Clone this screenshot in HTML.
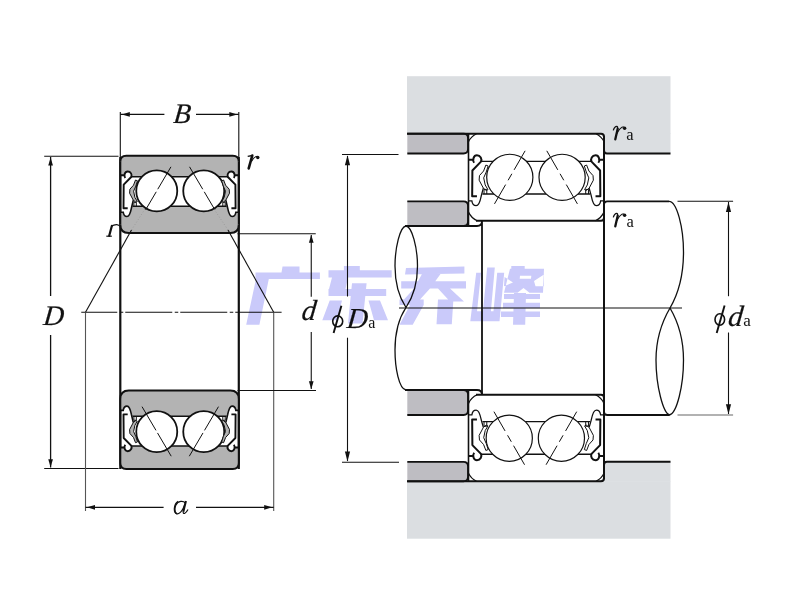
<!DOCTYPE html>
<html><head><meta charset="utf-8"><style>html,body{margin:0;padding:0;background:#fff;width:800px;height:600px;overflow:hidden}svg{display:block}</style></head>
<body>
<svg width="800" height="600" viewBox="0 0 800 600">
<rect width="800" height="600" fill="#fff"/>
<line x1="120.30" y1="112.00" x2="120.30" y2="157.00" stroke="#111" stroke-width="1.1" />
<line x1="120.30" y1="157.00" x2="120.30" y2="469.00" stroke="#111" stroke-width="2.2" />
<line x1="238.80" y1="112.00" x2="238.80" y2="157.00" stroke="#111" stroke-width="1.1" />
<line x1="238.80" y1="157.00" x2="238.80" y2="469.00" stroke="#111" stroke-width="2.2" />
<path d="M120.30,161.70 Q120.30,155.70 126.30,155.70 L232.80,155.70 Q238.80,155.70 238.80,161.70 L238.80,175.25 L234.60,175.25 C234.20,172.50 233.20,171.50 231.40,171.50 C228.30,171.50 226.80,174.70 227.90,176.70 L131.20,176.70 C132.30,174.70 130.80,171.50 127.70,171.50 C125.90,171.50 124.90,172.50 124.50,175.25 L120.30,175.25 Z" fill="#b3b3b3"/>
<path d="M120.30,224.60 Q120.30,233.10 128.80,233.10 L230.30,233.10 Q238.80,233.10 238.80,224.60 L238.80,212.25 L235.85,212.25 C235.60,214.20 234.30,216.50 232.10,216.50 C229.30,216.50 228.00,209.70 227.60,207.70 L226.60,206.30 L132.50,206.30 L131.50,207.70 C131.10,209.70 129.80,216.50 127.00,216.50 C124.80,216.50 123.50,214.20 123.25,212.25 L120.30,212.25 Z" fill="#b3b3b3"/>
<path d="M131.20,176.70 L227.90,176.70 M132.50,206.30 L226.60,206.30" stroke="#111" stroke-width="1.6" fill="none"/>
<circle cx="156.75" cy="190.95" r="20.50" fill="#fff" stroke="#111" stroke-width="1.8"/>
<circle cx="203.75" cy="190.95" r="20.50" fill="#fff" stroke="#111" stroke-width="1.8"/>
<line x1="170.96" y1="166.82" x2="145.58" y2="209.91" stroke="#111" stroke-width="1.0" stroke-dasharray="26 3 100"/>
<line x1="189.54" y1="166.82" x2="214.92" y2="209.91" stroke="#111" stroke-width="1.0" stroke-dasharray="26 3 100"/>
<path d="M120.30,175.25 L124.50,175.25 M125.25,178.00 C123.60,175.70 124.60,171.50 127.70,171.50 C130.80,171.50 132.30,174.70 131.20,177.00 L123.70,184.70 L123.50,208.25 L127.70,208.25" fill="none" stroke="#111" stroke-width="1.9" stroke-linejoin="round"/>
<path d="M135.50,180.00 L133.50,185.20 L129.90,189.20 L129.60,193.20 L133.30,200.20 L135.80,202.20 L137.30,201.50 L134.90,197.40 L133.60,191.20 L135.80,186.10 L137.50,180.80 Z" fill="#b3b3b3" stroke="#111" stroke-width="1.0" stroke-linejoin="round"/>
<path d="M120.30,212.25 L123.25,212.25 C123.50,214.20 124.80,216.50 127.00,216.50 C129.80,216.50 131.10,209.70 131.50,207.70 L133.30,200.20" fill="none" stroke="#111" stroke-width="1.6"/>
<path d="M133.90,206.30 L133.90,202.30 L136.30,202.30 L136.30,206.30" fill="none" stroke="#111" stroke-width="1.0"/>
<path d="M238.80,175.25 L234.60,175.25 M233.85,178.00 C235.50,175.70 234.50,171.50 231.40,171.50 C228.30,171.50 226.80,174.70 227.90,177.00 L235.40,184.70 L235.60,208.25 L231.40,208.25" fill="none" stroke="#111" stroke-width="1.9" stroke-linejoin="round"/>
<path d="M223.60,180.00 L225.60,185.20 L229.20,189.20 L229.50,193.20 L225.80,200.20 L223.30,202.20 L221.80,201.50 L224.20,197.40 L225.50,191.20 L223.30,186.10 L221.60,180.80 Z" fill="#b3b3b3" stroke="#111" stroke-width="1.0" stroke-linejoin="round"/>
<path d="M238.80,212.25 L235.85,212.25 C235.60,214.20 234.30,216.50 232.10,216.50 C229.30,216.50 228.00,209.70 227.60,207.70 L225.80,200.20" fill="none" stroke="#111" stroke-width="1.6"/>
<path d="M225.20,206.30 L225.20,202.30 L222.80,202.30 L222.80,206.30" fill="none" stroke="#111" stroke-width="1.0"/>
<path d="M120.30,161.70 Q120.30,155.70 126.30,155.70 L232.80,155.70 Q238.80,155.70 238.80,161.70" fill="none" stroke="#111" stroke-width="2.0"/>
<path d="M238.80,224.60 Q238.80,233.10 230.30,233.10 L128.80,233.10 Q120.30,233.10 120.30,224.60" fill="none" stroke="#111" stroke-width="2.0"/>
<path d="M120.30,161.70 L120.30,224.60 M238.80,161.70 L238.80,224.60" stroke="#111" stroke-width="2.0" fill="none"/>
<path d="M120.30,463.00 Q120.30,469.00 126.30,469.00 L232.80,469.00 Q238.80,469.00 238.80,463.00 L238.80,447.45 L234.60,447.45 C234.20,450.20 233.20,451.20 231.40,451.20 C228.30,451.20 226.80,448.00 227.90,446.00 L131.20,446.00 C132.30,448.00 130.80,451.20 127.70,451.20 C125.90,451.20 124.90,450.20 124.50,447.45 L120.30,447.45 Z" fill="#b3b3b3"/>
<path d="M120.30,399.00 Q120.30,390.50 128.80,390.50 L230.30,390.50 Q238.80,390.50 238.80,399.00 L238.80,410.35 L235.85,410.35 C235.60,408.40 234.30,406.10 232.10,406.10 C229.30,406.10 228.00,412.90 227.60,414.90 L226.60,416.30 L132.50,416.30 L131.50,414.90 C131.10,412.90 129.80,406.10 127.00,406.10 C124.80,406.10 123.50,408.40 123.25,410.35 L120.30,410.35 Z" fill="#b3b3b3"/>
<path d="M131.20,446.00 L227.90,446.00 M132.50,416.30 L226.60,416.30" stroke="#111" stroke-width="1.6" fill="none"/>
<circle cx="156.75" cy="431.65" r="20.50" fill="#fff" stroke="#111" stroke-width="1.8"/>
<circle cx="203.75" cy="431.65" r="20.50" fill="#fff" stroke="#111" stroke-width="1.8"/>
<line x1="171.21" y1="456.21" x2="142.03" y2="406.66" stroke="#111" stroke-width="1.0" stroke-dasharray="27 3 100"/>
<line x1="189.29" y1="456.21" x2="218.47" y2="406.66" stroke="#111" stroke-width="1.0" stroke-dasharray="27 3 100"/>
<path d="M120.30,447.45 L124.50,447.45 M125.25,444.70 C123.60,447.00 124.60,451.20 127.70,451.20 C130.80,451.20 132.30,448.00 131.20,445.70 L123.70,438.00 L123.50,414.35 L127.70,414.35" fill="none" stroke="#111" stroke-width="1.9" stroke-linejoin="round"/>
<path d="M135.50,442.70 L133.50,437.50 L129.90,433.50 L129.60,429.50 L133.30,422.50 L135.80,420.50 L137.30,421.20 L134.90,425.30 L133.60,431.50 L135.80,436.60 L137.50,441.90 Z" fill="#b3b3b3" stroke="#111" stroke-width="1.0" stroke-linejoin="round"/>
<path d="M120.30,410.35 L123.25,410.35 C123.50,408.40 124.80,406.10 127.00,406.10 C129.80,406.10 131.10,412.90 131.50,414.90 L133.30,422.50" fill="none" stroke="#111" stroke-width="1.6"/>
<path d="M133.90,416.30 L133.90,420.30 L136.30,420.30 L136.30,416.30" fill="none" stroke="#111" stroke-width="1.0"/>
<path d="M238.80,447.45 L234.60,447.45 M233.85,444.70 C235.50,447.00 234.50,451.20 231.40,451.20 C228.30,451.20 226.80,448.00 227.90,445.70 L235.40,438.00 L235.60,414.35 L231.40,414.35" fill="none" stroke="#111" stroke-width="1.9" stroke-linejoin="round"/>
<path d="M223.60,442.70 L225.60,437.50 L229.20,433.50 L229.50,429.50 L225.80,422.50 L223.30,420.50 L221.80,421.20 L224.20,425.30 L225.50,431.50 L223.30,436.60 L221.60,441.90 Z" fill="#b3b3b3" stroke="#111" stroke-width="1.0" stroke-linejoin="round"/>
<path d="M238.80,410.35 L235.85,410.35 C235.60,408.40 234.30,406.10 232.10,406.10 C229.30,406.10 228.00,412.90 227.60,414.90 L225.80,422.50" fill="none" stroke="#111" stroke-width="1.6"/>
<path d="M225.20,416.30 L225.20,420.30 L222.80,420.30 L222.80,416.30" fill="none" stroke="#111" stroke-width="1.0"/>
<path d="M120.30,463.00 Q120.30,469.00 126.30,469.00 L232.80,469.00 Q238.80,469.00 238.80,463.00" fill="none" stroke="#111" stroke-width="2.0"/>
<path d="M238.80,399.00 Q238.80,390.50 230.30,390.50 L128.80,390.50 Q120.30,390.50 120.30,399.00" fill="none" stroke="#111" stroke-width="2.0"/>
<path d="M120.30,463.00 L120.30,399.00 M238.80,463.00 L238.80,399.00" stroke="#111" stroke-width="2.0" fill="none"/>
<line x1="120.30" y1="114.40" x2="164.40" y2="114.40" stroke="#111" stroke-width="1.2" />
<line x1="196.00" y1="114.40" x2="238.80" y2="114.40" stroke="#111" stroke-width="1.2" />
<path d="M121.80,114.40 L129.80,112.05 L129.80,116.75 Z" fill="#111"/>
<path d="M237.30,114.40 L229.30,116.75 L229.30,112.05 Z" fill="#111"/>
<line x1="44.20" y1="156.20" x2="118.50" y2="156.20" stroke="#111" stroke-width="1.1" />
<line x1="44.20" y1="468.50" x2="118.50" y2="468.50" stroke="#111" stroke-width="1.1" />
<line x1="50.60" y1="157.00" x2="50.60" y2="296.00" stroke="#111" stroke-width="1.3" />
<line x1="50.60" y1="335.00" x2="50.60" y2="467.50" stroke="#111" stroke-width="1.3" />
<path d="M50.60,157.50 L52.95,165.50 L48.25,165.50 Z" fill="#111"/>
<path d="M50.60,467.30 L48.25,459.30 L52.95,459.30 Z" fill="#111"/>
<line x1="81.25" y1="312.25" x2="281.60" y2="312.25" stroke="#111" stroke-width="1.1" stroke-dasharray="47 2.5 3.5 2" stroke-dashoffset="11"/>
<line x1="85.50" y1="312.25" x2="85.50" y2="511.00" stroke="#555" stroke-width="1.1" />
<line x1="273.70" y1="312.25" x2="273.70" y2="511.00" stroke="#555" stroke-width="1.1" />
<line x1="85.50" y1="507.30" x2="163.60" y2="507.30" stroke="#111" stroke-width="1.2" />
<line x1="196.00" y1="507.30" x2="273.70" y2="507.30" stroke="#111" stroke-width="1.2" />
<path d="M87.00,507.30 L95.00,504.95 L95.00,509.65 Z" fill="#111"/>
<path d="M272.20,507.30 L264.20,509.65 L264.20,504.95 Z" fill="#111"/>
<line x1="85.50" y1="312.25" x2="131.50" y2="230.00" stroke="#111" stroke-width="1.1" />
<line x1="273.70" y1="312.25" x2="228.00" y2="230.00" stroke="#111" stroke-width="1.1" />
<line x1="131.50" y1="230.00" x2="145.00" y2="209.00" stroke="#999" stroke-width="0.9" stroke-dasharray="1 2"/>
<line x1="228.00" y1="230.00" x2="214.00" y2="209.00" stroke="#999" stroke-width="0.9" stroke-dasharray="1 2"/>
<line x1="237.50" y1="233.75" x2="315.75" y2="233.75" stroke="#111" stroke-width="1.1" />
<line x1="237.50" y1="390.50" x2="316.00" y2="390.50" stroke="#111" stroke-width="1.1" />
<line x1="311.25" y1="235.00" x2="311.25" y2="296.70" stroke="#111" stroke-width="1.1" />
<line x1="311.25" y1="332.00" x2="311.25" y2="389.00" stroke="#111" stroke-width="1.1" />
<path d="M311.25,234.75 L313.60,242.75 L308.90,242.75 Z" fill="#111"/>
<path d="M311.25,389.25 L308.90,381.25 L313.60,381.25 Z" fill="#111"/>
<rect x="407" y="76.2" width="263.5" height="57.5" fill="#dbdee1"/>
<rect x="600" y="133" width="70.5" height="20.5" fill="#dbdee1"/>
<rect x="407" y="481.3" width="263.5" height="57.4" fill="#dbdee1"/>
<rect x="600" y="461.8" width="70.5" height="20" fill="#dbdee1"/>
<path d="M407.3,133.7 L463.5,133.7 Q468.0,133.7 468.0,138.2 L468.0,149.0 Q468.0,153.5 463.5,153.5 L407.3,153.5 Z" fill="#bebdc2"/>
<path d="M407.3,201.3 L463.5,201.3 Q468.0,201.3 468.0,205.8 L468.0,221.5 Q468.0,226.0 463.5,226.0 L407.3,226.0 Z" fill="#bebdc2"/>
<path d="M407.3,390.0 L463.5,390.0 Q468.0,390.0 468.0,394.5 L468.0,410.5 Q468.0,415.0 463.5,415.0 L407.3,415.0 Z" fill="#bebdc2"/>
<path d="M407.3,461.8 L463.5,461.8 Q468.0,461.8 468.0,466.3 L468.0,476.8 Q468.0,481.3 463.5,481.3 L407.3,481.3 Z" fill="#bebdc2"/>
<path d="M468.50,141.70 Q468.50,133.70 476.50,133.70 L596.00,133.70 Q604.00,133.70 604.00,141.70 L604.00,159.64 L599.20,159.64 C598.74,156.50 597.60,155.36 595.54,155.36 C592.00,155.36 590.29,159.01 591.54,161.30 L480.96,161.30 C482.21,159.01 480.50,155.36 476.96,155.36 C474.90,155.36 473.76,156.50 473.30,159.64 L468.50,159.64 Z" fill="#fff"/>
<path d="M468.50,212.13 Q468.50,220.70 477.07,220.70 L595.43,220.70 Q604.00,220.70 604.00,212.13 L604.00,200.80 L600.63,200.80 C600.34,203.03 598.86,205.66 596.34,205.66 C593.14,205.66 591.66,197.89 591.20,195.60 L590.06,194.00 L482.44,194.00 L481.30,195.60 C480.84,197.89 479.36,205.66 476.16,205.66 C473.64,205.66 472.16,203.03 471.87,200.80 L468.50,200.80 Z" fill="#fff"/>
<path d="M480.96,161.30 L591.54,161.30 M482.44,194.00 L590.06,194.00" stroke="#111" stroke-width="1.3" fill="none"/>
<circle cx="509.80" cy="177.35" r="23.10" fill="#fff" stroke="#111" stroke-width="1.2"/>
<circle cx="562.10" cy="177.35" r="23.10" fill="#fff" stroke="#111" stroke-width="1.2"/>
<line x1="525.11" y1="150.82" x2="494.49" y2="203.88" stroke="#111" stroke-width="1.0" stroke-dasharray="22 4.5 7.5 5 40"/>
<line x1="546.79" y1="150.82" x2="577.41" y2="203.88" stroke="#111" stroke-width="1.0" stroke-dasharray="22 4.5 7.5 5 40"/>
<path d="M468.50,159.64 L473.30,159.64 M474.16,162.79 C472.27,160.16 473.41,155.36 476.96,155.36 C480.50,155.36 482.21,159.01 480.96,161.64 L472.39,170.44 L472.16,196.23 L476.96,196.23" fill="none" stroke="#111" stroke-width="2.0" stroke-linejoin="round"/>
<path d="M485.87,165.07 L483.59,171.01 L479.47,175.59 L479.13,180.16 L483.36,188.16 L486.21,190.44 L487.93,189.64 L485.19,184.96 L483.70,177.87 L486.21,172.04 L488.16,165.99 Z" fill="#fff" stroke="#111" stroke-width="1.0" stroke-linejoin="round"/>
<path d="M468.50,200.80 L471.87,200.80 C472.16,203.03 473.64,205.66 476.16,205.66 C479.36,205.66 480.84,197.89 481.30,195.60 L483.36,188.16" fill="none" stroke="#111" stroke-width="1.3"/>
<path d="M484.04,194.00 L484.04,189.43 L486.79,189.43 L486.79,194.00" fill="none" stroke="#111" stroke-width="1.0"/>
<path d="M604.00,159.64 L599.20,159.64 M598.34,162.79 C600.23,160.16 599.09,155.36 595.54,155.36 C592.00,155.36 590.29,159.01 591.54,161.64 L600.11,170.44 L600.34,196.23 L595.54,196.23" fill="none" stroke="#111" stroke-width="2.0" stroke-linejoin="round"/>
<path d="M586.63,165.07 L588.91,171.01 L593.03,175.59 L593.37,180.16 L589.14,188.16 L586.29,190.44 L584.57,189.64 L587.31,184.96 L588.80,177.87 L586.29,172.04 L584.34,165.99 Z" fill="#fff" stroke="#111" stroke-width="1.0" stroke-linejoin="round"/>
<path d="M604.00,200.80 L600.63,200.80 C600.34,203.03 598.86,205.66 596.34,205.66 C593.14,205.66 591.66,197.89 591.20,195.60 L589.14,188.16" fill="none" stroke="#111" stroke-width="1.3"/>
<path d="M588.46,194.00 L588.46,189.43 L585.71,189.43 L585.71,194.00" fill="none" stroke="#111" stroke-width="1.0"/>
<path d="M468.50,141.70 Q471.06,136.26 476.50,133.70 M604.00,141.70 Q601.44,136.26 596.00,133.70 M468.50,212.13 Q471.24,217.96 477.07,220.70 M604.00,212.13 Q601.26,217.96 595.43,220.70" fill="none" stroke="#111" stroke-width="1.2"/>
<path d="M468.50,473.30 Q468.50,481.30 476.50,481.30 L596.00,481.30 Q604.00,481.30 604.00,473.30 L604.00,455.91 L599.20,455.91 C598.74,459.05 597.60,460.19 595.54,460.19 C592.00,460.19 590.29,456.54 591.54,454.25 L480.96,454.25 C482.21,456.54 480.50,460.19 476.96,460.19 C474.90,460.19 473.76,459.05 473.30,455.91 L468.50,455.91 Z" fill="#fff"/>
<path d="M468.50,403.37 Q468.50,394.80 477.07,394.80 L595.43,394.80 Q604.00,394.80 604.00,403.37 L604.00,414.90 L600.63,414.90 C600.34,412.67 598.86,410.04 596.34,410.04 C593.14,410.04 591.66,417.81 591.20,420.10 L590.06,421.70 L482.44,421.70 L481.30,420.10 C480.84,417.81 479.36,410.04 476.16,410.04 C473.64,410.04 472.16,412.67 471.87,414.90 L468.50,414.90 Z" fill="#fff"/>
<path d="M480.96,454.25 L591.54,454.25 M482.44,421.70 L590.06,421.70" stroke="#111" stroke-width="1.3" fill="none"/>
<circle cx="509.25" cy="438.20" r="23.10" fill="#fff" stroke="#111" stroke-width="1.2"/>
<circle cx="561.40" cy="438.20" r="23.10" fill="#fff" stroke="#111" stroke-width="1.2"/>
<line x1="524.56" y1="464.73" x2="493.94" y2="411.67" stroke="#111" stroke-width="1.0" stroke-dasharray="22 4.5 7.5 5 40"/>
<line x1="546.09" y1="464.73" x2="576.71" y2="411.67" stroke="#111" stroke-width="1.0" stroke-dasharray="22 4.5 7.5 5 40"/>
<path d="M468.50,455.91 L473.30,455.91 M474.16,452.76 C472.27,455.39 473.41,460.19 476.96,460.19 C480.50,460.19 482.21,456.54 480.96,453.91 L472.39,445.11 L472.16,419.47 L476.96,419.47" fill="none" stroke="#111" stroke-width="2.0" stroke-linejoin="round"/>
<path d="M485.87,450.48 L483.59,444.54 L479.47,439.96 L479.13,435.39 L483.36,427.39 L486.21,425.11 L487.93,425.91 L485.19,430.59 L483.70,437.68 L486.21,443.51 L488.16,449.56 Z" fill="#fff" stroke="#111" stroke-width="1.0" stroke-linejoin="round"/>
<path d="M468.50,414.90 L471.87,414.90 C472.16,412.67 473.64,410.04 476.16,410.04 C479.36,410.04 480.84,417.81 481.30,420.10 L483.36,427.39" fill="none" stroke="#111" stroke-width="1.3"/>
<path d="M484.04,421.70 L484.04,426.27 L486.79,426.27 L486.79,421.70" fill="none" stroke="#111" stroke-width="1.0"/>
<path d="M604.00,455.91 L599.20,455.91 M598.34,452.76 C600.23,455.39 599.09,460.19 595.54,460.19 C592.00,460.19 590.29,456.54 591.54,453.91 L600.11,445.11 L600.34,419.47 L595.54,419.47" fill="none" stroke="#111" stroke-width="2.0" stroke-linejoin="round"/>
<path d="M586.63,450.48 L588.91,444.54 L593.03,439.96 L593.37,435.39 L589.14,427.39 L586.29,425.11 L584.57,425.91 L587.31,430.59 L588.80,437.68 L586.29,443.51 L584.34,449.56 Z" fill="#fff" stroke="#111" stroke-width="1.0" stroke-linejoin="round"/>
<path d="M604.00,414.90 L600.63,414.90 C600.34,412.67 598.86,410.04 596.34,410.04 C593.14,410.04 591.66,417.81 591.20,420.10 L589.14,427.39" fill="none" stroke="#111" stroke-width="1.3"/>
<path d="M588.46,421.70 L588.46,426.27 L585.71,426.27 L585.71,421.70" fill="none" stroke="#111" stroke-width="1.0"/>
<path d="M468.50,473.30 Q471.06,478.74 476.50,481.30 M604.00,473.30 Q601.44,478.74 596.00,481.30 M468.50,403.37 Q471.24,397.54 477.07,394.80 M604.00,403.37 Q601.26,397.54 595.43,394.80" fill="none" stroke="#111" stroke-width="1.2"/>
<path d="M407.3,133.7 L463.5,133.7 Q468.0,133.7 468.0,138.2 L468.0,149.0 Q468.0,153.5 463.5,153.5 L407.3,153.5" fill="none" stroke="#111" stroke-width="1.8"/>
<path d="M407.3,201.3 L463.5,201.3 Q468.0,201.3 468.0,205.8 L468.0,221.5 Q468.0,226.0 463.5,226.0 L407.3,226.0" fill="none" stroke="#111" stroke-width="1.8"/>
<path d="M407.3,390.0 L463.5,390.0 Q468.0,390.0 468.0,394.5 L468.0,410.5 Q468.0,415.0 463.5,415.0 L407.3,415.0" fill="none" stroke="#111" stroke-width="1.8"/>
<path d="M407.3,461.8 L463.5,461.8 Q468.0,461.8 468.0,466.3 L468.0,476.8 Q468.0,481.3 463.5,481.3 L407.3,481.3" fill="none" stroke="#111" stroke-width="1.8"/>
<path d="M407,133.7 L601,133.7 Q604,133.7 604,136.7 L604,150.5 Q604,153.5 607,153.5 L670.5,153.5" fill="none" stroke="#111" stroke-width="2.0"/>
<path d="M407,481.3 L601,481.3 Q604,481.3 604,478.3 L604,464.8 Q604,461.8 607,461.8 L670.5,461.8" fill="none" stroke="#111" stroke-width="2.0"/>
<line x1="468.50" y1="133.70" x2="468.50" y2="226.00" stroke="#111" stroke-width="1.6" />
<line x1="468.50" y1="390.00" x2="468.50" y2="481.30" stroke="#111" stroke-width="1.6" />
<line x1="604.00" y1="136.00" x2="604.00" y2="479.00" stroke="#111" stroke-width="2.0" />
<path d="M405,226 L477,226 Q482,226 482,221 L482,395" fill="none" stroke="#111" stroke-width="1.8"/>
<path d="M405,390 L477,390 Q482,390 482,395" fill="none" stroke="#111" stroke-width="1.8"/>
<path d="M476,220.7 L601,220.7 Q604,220.7 604,217.7" fill="none" stroke="#111" stroke-width="2.0"/>
<path d="M476,394.8 L601,394.8 Q604,394.8 604,397.8" fill="none" stroke="#111" stroke-width="2.0"/>
<path d="M604,204.7 Q604,201.3 607.4,201.3 L669,201.3" fill="none" stroke="#111" stroke-width="1.8"/>
<path d="M604,411.7 Q604,415 607.4,415 L669,415" fill="none" stroke="#111" stroke-width="1.8"/>
<path d="M406,226 C400,226.5 395,248 395,266 C395,284 399,297 406,307.5 C399,318 395,332 395,350 C395,368 399,389 406,390" fill="none" stroke="#111" stroke-width="1.3"/>
<path d="M406,226 C412,226.5 417.5,248 417.5,266 C417.5,284 413,297 406,307.5" fill="none" stroke="#111" stroke-width="1.3"/>
<path d="M669,201.3 C677,201.3 683.5,228 683.5,252 C683.5,276 677,296 670,308 C663,320 656,338 656,360 C656,385 663,414 670,415" fill="none" stroke="#111" stroke-width="1.3"/>
<path d="M670,308 C677,320 683.5,338 683.5,360 C683.5,385 677,414 669,415" fill="none" stroke="#111" stroke-width="1.3"/>
<line x1="399.00" y1="308.00" x2="682.00" y2="308.00" stroke="#111" stroke-width="1.1" />
<line x1="342.00" y1="154.50" x2="398.50" y2="154.50" stroke="#111" stroke-width="1.1" />
<line x1="342.00" y1="462.20" x2="399.00" y2="462.20" stroke="#111" stroke-width="1.1" />
<line x1="347.50" y1="156.00" x2="347.50" y2="296.50" stroke="#111" stroke-width="1.1" />
<line x1="347.50" y1="337.70" x2="347.50" y2="461.00" stroke="#111" stroke-width="1.1" />
<path d="M347.50,155.20 L350.10,165.20 L344.90,165.20 Z" fill="#111"/>
<path d="M347.50,461.50 L344.90,451.50 L350.10,451.50 Z" fill="#111"/>
<line x1="677.50" y1="201.25" x2="733.10" y2="201.25" stroke="#111" stroke-width="1.1" />
<line x1="677.50" y1="415.00" x2="733.10" y2="415.00" stroke="#666" stroke-width="1.2" />
<line x1="728.50" y1="202.00" x2="728.50" y2="296.20" stroke="#111" stroke-width="1.1" />
<line x1="728.50" y1="332.50" x2="728.50" y2="414.00" stroke="#111" stroke-width="1.1" />
<path d="M728.50,202.00 L731.10,212.00 L725.90,212.00 Z" fill="#111"/>
<path d="M728.50,414.20 L725.90,404.20 L731.10,404.20 Z" fill="#111"/>
<text x="173.6" y="122.9" font-family="Liberation Serif" font-style="italic" font-size="28.4" fill="#111" stroke="#111" stroke-width="0.2" transform="translate(173.6,122.9) skewX(-6) translate(-173.6,-122.9) translate(-0.9,0)">B</text>
<text x="43.6" y="324.7" font-family="Liberation Serif" font-style="italic" font-size="28.4" fill="#111" stroke="#111" stroke-width="0.2" transform="translate(43.6,324.7) skewX(-6) translate(-43.6,-324.7) translate(-0.9,0)">D</text>
<path d="M185.20,503.00 C183.40,500.60 178.20,500.30 175.80,505.30 C174.00,509.70 175.00,514.00 177.60,513.80 C180.40,513.50 183.00,509.30 184.60,504.90" fill="none" stroke="#111" stroke-width="1.2"/><path d="M178.20,501.30 C176.20,502.30 174.80,505.10 174.50,508.30 C174.30,510.90 175.20,513.30 177.00,513.70" fill="none" stroke="#111" stroke-width="1.5"/><path d="M185.90,501.00 L183.30,511.70" fill="none" stroke="#111" stroke-width="2.1"/><path d="M183.30,511.50 Q182.90,514.00 184.60,513.40 Q186.40,512.50 188.00,509.50" fill="none" stroke="#111" stroke-width="1.2"/>
<path d="M247.70,156.30 L252.40,155.50" fill="none" stroke="#111" stroke-width="1.3"/><path d="M252.30,155.50 L248.70,168.40" fill="none" stroke="#111" stroke-width="2.6" stroke-linecap="round"/><path d="M251.60,161.20 Q254.30,156.30 257.30,156.20" fill="none" stroke="#111" stroke-width="1.1"/><circle cx="257.80" cy="157.50" r="1.7" fill="#111"/>
<path d="M111.9,225.8 L109.2,235.8" stroke="#111" stroke-width="2.2" stroke-linecap="round"/>
<path d="M106.3,236.2 L111.8,236.2" stroke="#111" stroke-width="1.2"/>
<path d="M111.4,226.3 Q113.8,224.5 116.8,224.6 Q118.8,224.8 120.3,226.5" fill="none" stroke="#111" stroke-width="1.1"/>
<text x="302" y="319.75" font-family="Liberation Serif" font-style="italic" font-size="29" fill="#111" stroke="#111" stroke-width="0.2" transform="translate(302,319.75) skewX(-6) translate(-302,-319.75) translate(-0.9,0)">d</text>
<text x="347.2" y="327.6" font-family="Liberation Serif" font-style="italic" font-size="29" fill="#111" stroke="#111" stroke-width="0.2" transform="translate(347.2,327.6) skewX(-6) translate(-347.2,-327.6) translate(-0.9,0)">D</text>
<text x="368.3" y="327.6" font-family="Liberation Serif" font-size="16" fill="#111">a</text>
<text x="728.5" y="325.7" font-family="Liberation Serif" font-style="italic" font-size="29.5" fill="#111" stroke="#111" stroke-width="0.2" transform="translate(728.5,325.7) skewX(-6) translate(-728.5,-325.7) translate(-0.9,0)">d</text>
<text x="743.3" y="325.8" font-family="Liberation Serif" font-size="17" fill="#111">a</text>
<path d="M613.30,130.40 Q614.50,126.30 616.70,126.30 Q618.00,126.50 617.60,129.20" fill="none" stroke="#111" stroke-width="1.3"/><path d="M617.70,128.80 L615.30,139.30" fill="none" stroke="#111" stroke-width="2.3" stroke-linecap="round"/><path d="M617.00,133.40 Q620.00,127.00 623.80,126.70" fill="none" stroke="#111" stroke-width="1.1"/><circle cx="624.60" cy="128.30" r="1.75" fill="#111"/>
<text x="626.2" y="139.8" font-family="Liberation Serif" font-size="16.5" fill="#111">a</text>
<path d="M613.30,217.40 Q614.50,213.30 616.70,213.30 Q618.00,213.50 617.60,216.20" fill="none" stroke="#111" stroke-width="1.3"/><path d="M617.70,215.80 L615.30,226.30" fill="none" stroke="#111" stroke-width="2.3" stroke-linecap="round"/><path d="M617.00,220.40 Q620.00,214.00 623.80,213.70" fill="none" stroke="#111" stroke-width="1.1"/><circle cx="624.60" cy="215.30" r="1.75" fill="#111"/>
<text x="626.5" y="226.6" font-family="Liberation Serif" font-size="16.5" fill="#111">a</text>
<ellipse cx="337.7" cy="321.3" rx="5.0" ry="5.4" fill="none" stroke="#111" stroke-width="1.6"/><line x1="341.40" y1="305.75" x2="333.60" y2="332.90" stroke="#111" stroke-width="1.9" />
<ellipse cx="719.8" cy="319.5" rx="4.8" ry="5.7" fill="none" stroke="#111" stroke-width="1.6"/><line x1="724.60" y1="305.40" x2="716.70" y2="333.00" stroke="#111" stroke-width="1.9" />
<path d="M282.5,266.4 L299.5,266.4 L299.5,272.6 L281.5,272.6 Z M255.5,272.5 L319.9,272.5 L319.9,279.0 L255.5,279.0 Z M256.0,279.0 L268.8,279.0 L259.4,324.7 L246.2,324.7 Z M343.9,265.9 L359.8,265.9 L359.8,270.4 L343.9,270.4 Z M328.5,270.3 L391.7,270.3 L391.7,277.4 L328.5,277.4 Z M332.0,277.4 L348.0,277.4 L345.5,289.0 L329.0,289.0 Z M328.5,289.0 L386.2,289.0 L386.2,296.1 L328.5,296.1 Z M352.0,283.2 L366.6,283.2 L362.5,323.6 L348.0,323.6 Z M329.7,300.4 L342.0,300.4 L337.0,320.3 L322.3,320.3 Z M368.5,300.5 L380.0,300.5 L388.0,320.3 L374.0,320.3 Z M406.0,268.0 L464.4,266.5 L464.4,273.5 L405.0,274.6 Z M401.2,281.2 L466.0,281.2 L466.0,288.4 L401.2,288.4 Z M422.0,274.0 L440.5,274.0 L430.0,288.4 L414.0,288.4 Z M414.0,288.4 L430.0,288.4 L420.0,299.4 L404.0,299.4 Z M438.0,288.4 L450.0,288.4 L464.0,301.6 L450.0,301.6 Z M399.5,299.4 L423.7,299.4 L423.7,305.0 L399.5,305.0 Z M410.0,305.0 L423.7,305.0 L412.7,324.7 L399.5,324.7 Z M438.0,299.4 L453.4,299.4 L451.8,324.2 L436.5,324.2 Z M476.2,272.8 L481.0,272.8 L476.0,321.3 L470.3,321.3 Z M487.2,267.6 L494.8,267.6 L490.0,321.3 L482.0,321.3 Z M497.2,272.8 L504.2,272.8 L499.5,321.3 L492.5,321.3 Z M471.5,311.3 L499.5,311.3 L498.5,321.3 L470.3,321.3 Z M511.3,266.0 L524.7,266.0 L524.7,268.9 L511.3,268.9 Z M510.0,268.7 L544.0,268.7 L543.0,292.7 L504.0,292.7 Z M504.0,293.9 L540.0,293.9 L540.0,298.9 L504.0,298.9 Z M503.0,302.7 L540.0,302.7 L540.0,308.2 L503.0,308.2 Z M501.0,311.5 L540.0,311.5 L540.0,317.0 L501.0,317.0 Z M514.0,293.0 L526.0,293.0 L525.2,324.7 L513.0,324.7 Z M519.7,278.7 L531.0,278.7 L531.3,275.7 L520.0,275.7 Z M504.0,286.2 L513.0,282.5 L504.6,277.0 Z M534.0,281.0 L535.5,286.2 L544.0,286.2 L544.0,274.5 Z M517.5,292.8 L529.5,292.8 L523.5,288.0 Z" fill="#cacafa" fill-rule="nonzero" style="mix-blend-mode:multiply"/>
</svg>
</body></html>
